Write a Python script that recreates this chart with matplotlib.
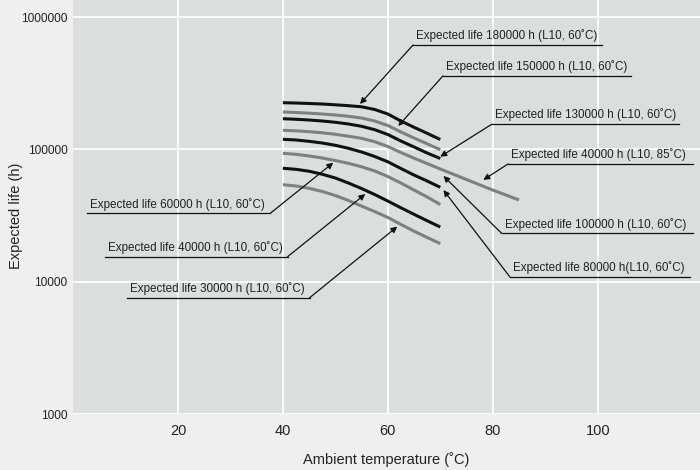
import matplotlib
matplotlib.use("Agg")
import matplotlib.pyplot as plt

# temperatures (deg C) at which the curves were read
temps = [40, 42.5, 45, 47.5, 50, 52.5, 55, 57.5, 60, 62.5, 65, 67.5, 70]
temps_ext = temps + [75, 80, 85]

# expected life (h), top curve first
life_180k = [225400, 224200, 222300, 220400, 217300, 214000, 209900,
             200300, 185200, 163900, 146900, 132300, 118800]
life_150k = [191700, 190100, 187800, 185200, 182000, 177900, 172700,
             163900, 151600, 135400, 121900, 110200, 99500]
life_130k = [170600, 168900, 166800, 163900, 160300, 155600, 149500,
             140900, 129600, 115700, 104300, 93900, 85400]
life_40k_85 = [139400, 138200, 136100, 133500, 130100, 125800, 121300,
               114300, 105200, 94700, 85800, 78200, 71100, 59200, 49300, 41500]
life_80k = [119200, 117800, 115100, 111800, 107400, 101900, 95600,
            88400, 80600, 71700, 64000, 57700, 51700]
life_60k = [93400, 91800, 89200, 86100, 82400, 78500, 73900,
            68700, 62400, 55700, 49300, 43700, 38300]
life_40k = [72000, 70700, 68400, 64900, 60800, 55700, 50600,
            45600, 40700, 36200, 32300, 28900, 25900]
life_30k = [54100, 52900, 50800, 48100, 44800, 41100, 37300,
            33900, 30600, 27100, 24100, 21600, 19400]

x_ticks = [20, 40, 60, 80, 100]
y_ticks = [1000, 10000, 100000, 1000000]

labels = [
    "Expected life 180000 h (L10, 60˚C)",
    "Expected life 150000 h (L10, 60˚C)",
    "Expected life 130000 h (L10, 60˚C)",
    "Expected life 40000 h (L10, 85˚C)",
    "Expected life 100000 h (L10, 60˚C)",
    "Expected life 80000 h(L10, 60˚C)",
    "Expected life 60000 h (L10, 60˚C)",
    "Expected life 40000 h (L10, 60˚C)",
    "Expected life 30000 h (L10, 60˚C)",
]

BLACK = "#111111"
GRAY = "#808080"
TXT = "#222222"

fig = plt.figure(figsize=(7, 4.7), dpi=100)
fig.patch.set_facecolor("#efefef")
ax = fig.add_axes([0.1043, 0.119, 0.8957, 0.881])
ax.set_facecolor("#dcdddd")

series = [
    (temps, life_180k, BLACK),
    (temps, life_150k, GRAY),
    (temps, life_130k, BLACK),
    (temps_ext, life_40k_85, GRAY),
    (temps, life_80k, BLACK),
    (temps, life_60k, GRAY),
    (temps, life_40k, BLACK),
    (temps, life_30k, GRAY),
]
for xs, ys, col in series:
    ax.plot(xs, ys, color=col, lw=2.2, solid_capstyle="butt",
            solid_joinstyle="round", zorder=3)

ax.set_yscale("log")
ax.set_xlim(0, 119.5)
ax.set_ylim(1000, 1.346e6)
ax.set_xticks(x_ticks)
ax.set_yticks(y_ticks)
ax.set_yticklabels([str(v) for v in y_ticks])
ax.yaxis.set_minor_locator(matplotlib.ticker.NullLocator())
ax.grid(True, color="white", lw=1.3, zorder=1)
ax.set_axisbelow(True)
for s in ax.spines.values():
    s.set_visible(False)
ax.tick_params(length=0)
ax.tick_params(axis="x", pad=7)
ax.tick_params(axis="y", pad=4)
for t in ax.get_xticklabels():
    t.set_fontfamily("Liberation Sans")
    t.set_fontsize(10.5)
    t.set_color(TXT)
for t in ax.get_yticklabels():
    t.set_fontfamily("Liberation Sans")
    t.set_fontsize(8.6)
    t.set_color(TXT)

ax.set_xlabel("Ambient temperature (˚C)", fontfamily="Liberation Sans",
              fontsize=10.5, color=TXT, labelpad=10)
ax.set_ylabel("Expected life (h)", fontfamily="Liberation Sans",
              fontsize=10.5, color=TXT)
ax.yaxis.set_label_coords(-0.079, 0.48)

# label layout: underline start x, end x, underline y, which end the leader
# leaves from, arrow tip
layout = [
    (64.8, 100.9, 615000, "left", (54.7, 220400)),
    (70.5, 106.4, 359000, "left", (62.0, 150300)),
    (79.8, 115.5, 154900, "left", (70.0, 88100)),
    (82.9, 118.2, 77600, "left", (78.2, 58800)),
    (81.7, 118.1, 23200, "left", (70.6, 63000)),
    (83.3, 117.6, 10830, "left", (70.6, 49300)),
    (2.7, 37.6, 32900, "right", (49.6, 79300)),
    (6.1, 40.9, 15460, "right", (55.7, 46000)),
    (10.2, 45.1, 7570, "right", (61.8, 26100)),
]
for text, (x0, x1, yl, side, tip) in zip(labels, layout):
    ax.plot([x0, x1], [yl, yl], color=BLACK, lw=0.9, zorder=4)
    start = (x0, yl) if side == "left" else (x1, yl)
    ax.annotate("", xy=tip, xytext=start,
                arrowprops=dict(arrowstyle="-|>", color=BLACK, lw=0.9,
                                mutation_scale=9, shrinkA=0, shrinkB=0),
                zorder=4)
    ax.annotate(text, xy=(x0, yl), xytext=(2.2, 2), textcoords="offset points",
                ha="left", va="bottom", fontsize=8.4, color=TXT,
                fontfamily="Liberation Sans", zorder=5)

fig.savefig("out.png", dpi=100, facecolor=fig.get_facecolor())
